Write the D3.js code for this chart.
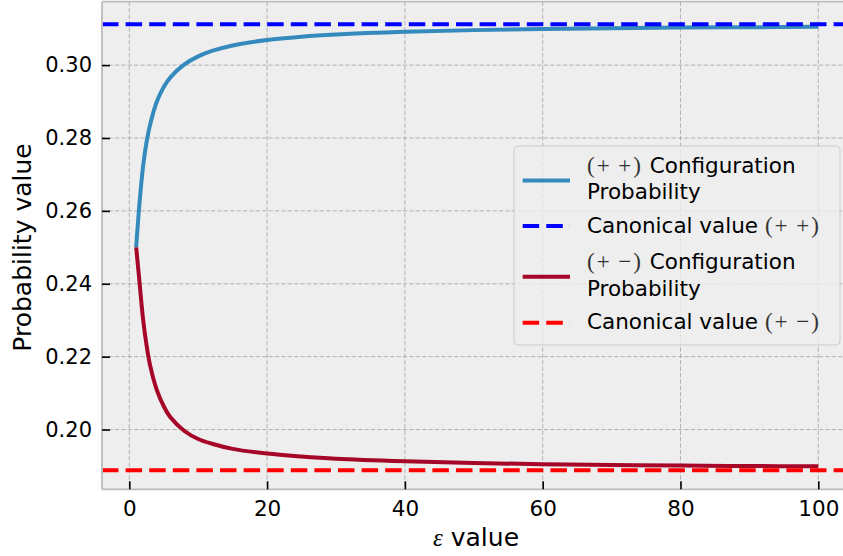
<!DOCTYPE html>
<html>
<head>
<meta charset="utf-8">
<script src="https://cdn.jsdelivr.net/npm/d3@7/dist/d3.min.js"></script>
<style>
  html, body { margin: 0; padding: 0; background: #ffffff; }
  svg { display: block; font-family: "DejaVu Sans", sans-serif; }
</style>
</head>
<body>
<svg id="chart" width="843" height="556"></svg>
<script>
// ---- data ----
const epsValues = [1, 1.5, 2, 2.5, 3, 4, 5, 6, 8, 10, 12, 15, 20, 25, 30, 40, 50, 60, 70, 80, 90, 100];
const probPlusPlus = [0.2500, 0.2625, 0.2722, 0.2788, 0.2835, 0.2900, 0.2940, 0.2967, 0.3002, 0.3024, 0.3039, 0.3054, 0.3069, 0.3078, 0.3084, 0.30915, 0.3096, 0.3099, 0.3101, 0.3103, 0.3104, 0.3105];
const probPlusMinus = [0.2500, 0.2401, 0.2303, 0.2232, 0.2178, 0.2108, 0.2064, 0.2033, 0.1996, 0.1974, 0.1961, 0.1947, 0.1934, 0.1926, 0.1920, 0.1913, 0.1908, 0.1905, 0.1903, 0.1901, 0.1900, 0.1899];
const canonicalPlusPlus = 0.3112;
const canonicalPlusMinus = 0.1888;
const xTicks = [0, 20, 40, 60, 80, 100];
const yTicks = [0.20, 0.22, 0.24, 0.26, 0.28, 0.30];

// ---- layout ----
const svg = d3.select("#chart");
const pLeft = 102, pRight = 852.4, pTop = 1.7, pBottom = 489.3;
const x = d3.scaleLinear().domain([-3.96, 104.95]).range([pLeft, pRight]);
const y = d3.scaleLinear().domain([0.1836, 0.3174]).range([pBottom, pTop]);

// background
svg.append("rect").attr("x", pLeft).attr("y", pTop)
  .attr("width", pRight - pLeft).attr("height", pBottom - pTop)
  .attr("fill", "#eeeeee");

// grid
const grid = svg.append("g").attr("stroke", "#b2b2b2").attr("stroke-width", 1)
  .attr("stroke-dasharray", "4.4,2");
grid.selectAll("line.vx").data(xTicks).join("line")
  .attr("x1", d => x(d)).attr("x2", d => x(d)).attr("y1", pTop).attr("y2", pBottom);
grid.selectAll("line.hy").data(yTicks).join("line")
  .attr("x1", pLeft).attr("x2", pRight).attr("y1", d => y(d)).attr("y2", d => y(d));

// clip for data
svg.append("clipPath").attr("id", "clip").append("rect")
  .attr("x", pLeft).attr("y", pTop).attr("width", pRight - pLeft).attr("height", pBottom - pTop);
const plot = svg.append("g").attr("clip-path", "url(#clip)");

const line = d3.line().x(d => x(d[0])).y(d => y(d[1])).curve(d3.curveCatmullRom.alpha(0.5));
const ppData = epsValues.map((e, i) => [e, probPlusPlus[i]]);
const pmData = epsValues.map((e, i) => [e, probPlusMinus[i]]);

const blue = "#348ABD", red = "#A60628";
plot.append("path").datum(ppData).attr("d", line)
  .attr("fill", "none").attr("stroke", blue).attr("stroke-width", 4);
plot.append("line").attr("x1", pLeft).attr("x2", pRight)
  .attr("y1", y(canonicalPlusPlus)).attr("y2", y(canonicalPlusPlus))
  .attr("stroke", "#0000ff").attr("stroke-width", 4).attr("stroke-dasharray", "16.5,7.1");
plot.append("path").datum(pmData).attr("d", line)
  .attr("fill", "none").attr("stroke", red).attr("stroke-width", 4);
plot.append("line").attr("x1", pLeft).attr("x2", pRight)
  .attr("y1", y(canonicalPlusMinus)).attr("y2", y(canonicalPlusMinus))
  .attr("stroke", "#ff0000").attr("stroke-width", 4).attr("stroke-dasharray", "16.5,7.1");

// frame
const frame = svg.append("g").attr("stroke", "#bcbcbc").attr("stroke-width", 1.8).attr("fill", "none");
frame.append("line").attr("x1", pLeft).attr("x2", pLeft).attr("y1", pTop).attr("y2", pBottom);
frame.append("line").attr("x1", pLeft).attr("x2", pRight).attr("y1", pTop).attr("y2", pTop);
frame.append("line").attr("x1", pLeft).attr("x2", pRight).attr("y1", pBottom).attr("y2", pBottom);
frame.append("line").attr("x1", pRight).attr("x2", pRight).attr("y1", pTop).attr("y2", pBottom);

// axes via d3 axis (inward ticks)
const xAxis = d3.axisBottom(x).tickValues(xTicks).tickFormat(d3.format("d"))
  .tickSizeInner(-8).tickSizeOuter(0).tickPadding(11);
const gx = svg.append("g").attr("transform", `translate(0,${pBottom})`).call(xAxis);
gx.select(".domain").remove();
gx.selectAll(".tick line").attr("stroke", "#000").attr("stroke-width", 1.6);
gx.selectAll(".tick text").attr("font-size", 21.5).attr("fill", "#000")
  .attr("font-family", "DejaVu Sans");

const yAxis = d3.axisLeft(y).tickValues(yTicks).tickFormat(d3.format(".2f"))
  .tickSizeInner(-8).tickSizeOuter(0).tickPadding(10);
const gy = svg.append("g").attr("transform", `translate(${pLeft},0)`).call(yAxis);
gy.select(".domain").remove();
gy.selectAll(".tick line").attr("stroke", "#000").attr("stroke-width", 1.6);
gy.selectAll(".tick text").attr("font-size", 21).attr("fill", "#000")
  .attr("font-family", "DejaVu Sans");

// axis labels
const xl = svg.append("text").attr("x", 476).attr("y", 546).attr("text-anchor", "middle")
  .attr("font-size", 25).attr("fill", "#000");
xl.append("tspan").attr("font-family", "Liberation Serif").attr("font-style", "italic").text("ε");
xl.append("tspan").text(" value");

svg.append("text").attr("transform", `translate(31,${(pTop + pBottom) / 2 + 2}) rotate(-90)`)
  .attr("text-anchor", "middle").attr("font-size", 25).attr("fill", "#000")
  .text("Probability value");

// legend
const lg = svg.append("g");
lg.append("rect").attr("x", 514).attr("y", 146).attr("width", 326).attr("height", 199)
  .attr("rx", 4).attr("fill", "#eeeeee").attr("fill-opacity", 0.8)
  .attr("stroke", "#cccccc").attr("stroke-width", 1);

const entries = [
  {color: blue, dash: null, handleY: 180.5, lines: [{math: "(+\u2009+)", text: " Configuration", base: 173.3}, {text: "Probability", base: 199.3}]},
  {color: "#0000ff", dash: "16.5,7.1", handleY: 226, lines: [{pre: "Canonical value ", math: "(+\u2009+)", base: 232.7}]},
  {color: red, dash: null, handleY: 276.7, lines: [{math: "(+\u2009\u2212)", text: " Configuration", base: 269.3}, {text: "Probability", base: 296}]},
  {color: "#ff0000", dash: "16.5,7.1", handleY: 322.7, lines: [{pre: "Canonical value ", math: "(+\u2009\u2212)", base: 329.3}]}
];
entries.forEach(en => {
  const l = lg.append("line").attr("x1", 522.7).attr("x2", 570)
    .attr("y1", en.handleY).attr("y2", en.handleY)
    .attr("stroke", en.color).attr("stroke-width", 4);
  if (en.dash) l.attr("stroke-dasharray", en.dash);
  en.lines.forEach(ln => {
    const t = lg.append("text").attr("x", 587).attr("y", ln.base)
      .attr("font-size", 21.5).attr("fill", "#000");
    if (ln.pre) t.append("tspan").text(ln.pre);
    if (ln.math) t.append("tspan").attr("font-family", "Liberation Serif")
      .attr("font-size", 23).attr("fill", "#333").attr("letter-spacing", 2).text(ln.math);
    if (ln.text) t.append("tspan").text(ln.text);
  });
});
</script>
</body>
</html>
